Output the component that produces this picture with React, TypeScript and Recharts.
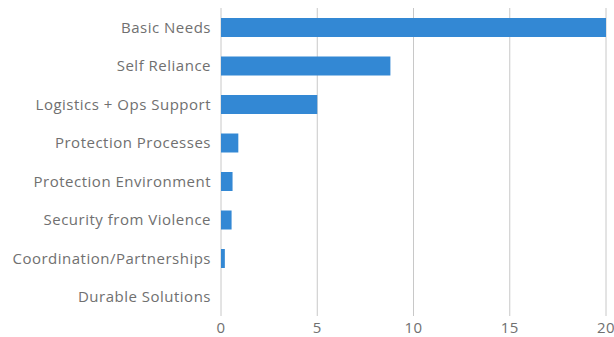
import { BarChart, Bar, XAxis, YAxis, CartesianGrid } from 'recharts'

const categories = [
  'Basic Needs',
  'Self Reliance',
  'Logistics + Ops Support',
  'Protection Processes',
  'Protection Environment',
  'Security from Violence',
  'Coordination/Partnerships',
  'Durable Solutions',
]
const values = [20, 8.8, 5, 0.9, 0.6, 0.55, 0.2, 0]
const xTicks = [0, 5, 10, 15, 20]

const data = categories.map((name, i) => ({ name, value: values[i] }))

const TICK_STYLE = { fill: '#707070', fontSize: 15, letterSpacing: 0.5, fontFamily: '"Open Sans", sans-serif' }

export default function App() {
  return (
    <div style={{ position: 'absolute', left: 0, top: 0, background: '#fff' }}>
      <BarChart
        width={614}
        height={337}
        data={data}
        layout="vertical"
        margin={{ top: 8, right: 8, left: 0, bottom: 0 }}
      >
        <CartesianGrid horizontal={false} stroke="#c8c8c8" />
        <XAxis
          type="number"
          domain={[0, 20]}
          ticks={xTicks}
          axisLine={false}
          tickLine={false}
          tickSize={0}
          tickMargin={6}
          height={21}
          tick={TICK_STYLE}
        />
        <YAxis
          type="category"
          dataKey="name"
          width={221}
          axisLine={false}
          tickLine={false}
          tickSize={0}
          tickMargin={10}
          tick={TICK_STYLE}
        />
        <Bar dataKey="value" fill="#3388d4" barSize={19} isAnimationActive={false} />
      </BarChart>
    </div>
  )
}
